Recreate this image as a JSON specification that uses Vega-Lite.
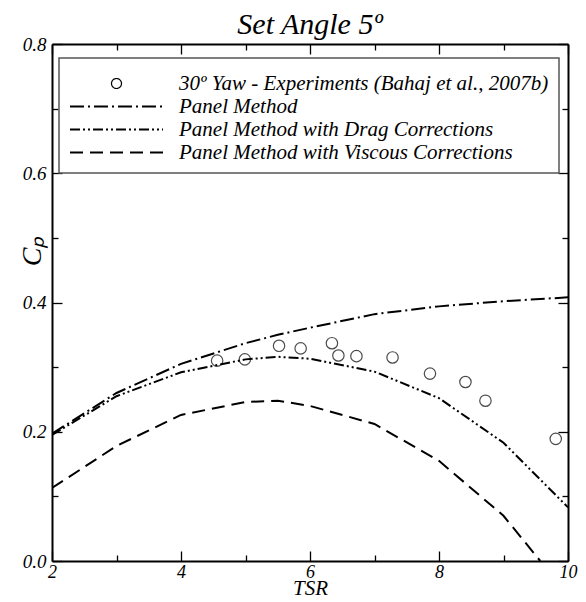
{
  "$schema": "https://vega.github.io/schema/vega-lite/v6.json",
  "width": 516,
  "height": 517,
  "autosize": {"type": "none"},
  "padding": {"left": 52, "top": 44, "right": 18, "bottom": 41},
  "background": "white",
  "config": {
    "view": {"stroke": null},
    "font": "Liberation Serif"
  },
  "title": {
    "text": "Set Angle 5º",
    "font": "Liberation Serif",
    "fontStyle": "italic",
    "fontWeight": "normal",
    "fontSize": 30,
    "color": "black",
    "offset": -5,
    "anchor": "middle"
  },
  "datasets": {
    "curves": [
      {"series": "Panel Method", "tsr": 2, "cp": 0.197},
      {"series": "Panel Method", "tsr": 3, "cp": 0.260},
      {"series": "Panel Method", "tsr": 4, "cp": 0.305},
      {"series": "Panel Method", "tsr": 5, "cp": 0.337},
      {"series": "Panel Method", "tsr": 5.5, "cp": 0.350},
      {"series": "Panel Method", "tsr": 6, "cp": 0.361},
      {"series": "Panel Method", "tsr": 7, "cp": 0.382},
      {"series": "Panel Method", "tsr": 8, "cp": 0.394},
      {"series": "Panel Method", "tsr": 9, "cp": 0.402},
      {"series": "Panel Method", "tsr": 10, "cp": 0.408},
      {"series": "Panel Method with Drag Corrections", "tsr": 2, "cp": 0.195},
      {"series": "Panel Method with Drag Corrections", "tsr": 3, "cp": 0.255},
      {"series": "Panel Method with Drag Corrections", "tsr": 4, "cp": 0.292},
      {"series": "Panel Method with Drag Corrections", "tsr": 5, "cp": 0.312},
      {"series": "Panel Method with Drag Corrections", "tsr": 5.5, "cp": 0.316},
      {"series": "Panel Method with Drag Corrections", "tsr": 6, "cp": 0.313},
      {"series": "Panel Method with Drag Corrections", "tsr": 7, "cp": 0.293},
      {"series": "Panel Method with Drag Corrections", "tsr": 8, "cp": 0.252},
      {"series": "Panel Method with Drag Corrections", "tsr": 9, "cp": 0.183},
      {"series": "Panel Method with Drag Corrections", "tsr": 10, "cp": 0.083},
      {"series": "Panel Method with Viscous Corrections", "tsr": 2, "cp": 0.113},
      {"series": "Panel Method with Viscous Corrections", "tsr": 3, "cp": 0.178},
      {"series": "Panel Method with Viscous Corrections", "tsr": 4, "cp": 0.226},
      {"series": "Panel Method with Viscous Corrections", "tsr": 5, "cp": 0.246},
      {"series": "Panel Method with Viscous Corrections", "tsr": 5.5, "cp": 0.248},
      {"series": "Panel Method with Viscous Corrections", "tsr": 6, "cp": 0.240},
      {"series": "Panel Method with Viscous Corrections", "tsr": 7, "cp": 0.212},
      {"series": "Panel Method with Viscous Corrections", "tsr": 8, "cp": 0.155},
      {"series": "Panel Method with Viscous Corrections", "tsr": 9, "cp": 0.070},
      {"series": "Panel Method with Viscous Corrections", "tsr": 9.57, "cp": 0.0}
    ],
    "experiments": [
      {"series": "30º Yaw - Experiments (Bahaj et al., 2007b)", "tsr": 4.56, "cp": 0.310},
      {"series": "30º Yaw - Experiments (Bahaj et al., 2007b)", "tsr": 4.99, "cp": 0.312},
      {"series": "30º Yaw - Experiments (Bahaj et al., 2007b)", "tsr": 5.52, "cp": 0.333},
      {"series": "30º Yaw - Experiments (Bahaj et al., 2007b)", "tsr": 5.855, "cp": 0.329},
      {"series": "30º Yaw - Experiments (Bahaj et al., 2007b)", "tsr": 6.34, "cp": 0.337},
      {"series": "30º Yaw - Experiments (Bahaj et al., 2007b)", "tsr": 6.44, "cp": 0.318},
      {"series": "30º Yaw - Experiments (Bahaj et al., 2007b)", "tsr": 6.72, "cp": 0.317},
      {"series": "30º Yaw - Experiments (Bahaj et al., 2007b)", "tsr": 7.28, "cp": 0.315},
      {"series": "30º Yaw - Experiments (Bahaj et al., 2007b)", "tsr": 7.86, "cp": 0.290},
      {"series": "30º Yaw - Experiments (Bahaj et al., 2007b)", "tsr": 8.41, "cp": 0.277},
      {"series": "30º Yaw - Experiments (Bahaj et al., 2007b)", "tsr": 8.72, "cp": 0.248},
      {"series": "30º Yaw - Experiments (Bahaj et al., 2007b)", "tsr": 9.81, "cp": 0.189}
    ]
  },
  "resolve": {"axis": {"x": "independent", "y": "independent"}},
  "layer": [
    {
      "data": {"name": "curves"},
      "mark": {"type": "line", "color": "black", "strokeWidth": 2, "clip": true},
      "encoding": {
        "x": {
          "field": "tsr", "type": "quantitative",
          "scale": {"domain": [2, 10], "nice": false, "zero": false},
          "axis": {
            "orient": "bottom",
            "title": "TSR",
            "titleFont": "Liberation Serif", "titleFontStyle": "italic", "titleFontWeight": "normal",
            "titleFontSize": 21, "titleColor": "black", "titlePadding": -8,
            "values": [2, 3, 4, 5, 6, 7, 8, 9, 10],
            "labelExpr": "datum.value % 2 == 0 ? datum.label : ''",
            "labelFont": "Liberation Serif", "labelFontStyle": "italic", "labelFontSize": 18, "labelColor": "black",
            "labelPadding": 12, "labelFlush": false, "labelOverlap": false,
            "grid": false,
            "domainColor": "black", "domainWidth": 2,
            "tickColor": "black", "tickWidth": 1.3,
            "tickSize": {"condition": {"test": "datum.value % 2 == 0", "value": -10}, "value": -6}
          }
        },
        "y": {
          "field": "cp", "type": "quantitative",
          "scale": {"domain": [0, 0.8], "nice": false, "zero": false},
          "axis": {
            "orient": "left",
            "title": "Cₚ",
            "titleFont": "Liberation Serif", "titleFontStyle": "italic", "titleFontWeight": "normal",
            "titleFontSize": 28, "titleColor": "black",
            "titleAngle": -90, "titleX": -20, "titleY": 207, "titleAlign": "center", "titleBaseline": "middle",
            "values": [0, 0.1, 0.2, 0.3, 0.4, 0.5, 0.6, 0.7, 0.8],
            "labelExpr": "round(datum.value * 10) % 2 == 0 ? format(datum.value, '.1f') : ''",
            "labelFont": "Liberation Serif", "labelFontStyle": "italic", "labelFontSize": 19, "labelColor": "black",
            "labelPadding": 16, "labelFlush": false, "labelOverlap": false,
            "grid": false,
            "domainColor": "black", "domainWidth": 2,
            "tickColor": "black", "tickWidth": 1.3,
            "tickSize": {"condition": {"test": "round(datum.value * 10) % 2 == 0", "value": -10}, "value": -6}
          }
        },
        "strokeDash": {
          "field": "series", "type": "nominal",
          "scale": {
            "domain": ["30º Yaw - Experiments (Bahaj et al., 2007b)", "Panel Method", "Panel Method with Drag Corrections", "Panel Method with Viscous Corrections"],
            "range": [[1, 0], [14, 4, 2, 4], [10, 3, 2, 3, 2, 3], [13, 7]]
          },
          "legend": {
            "title": " ",
            "titleFontSize": 5,
            "titlePadding": 0,
            "orient": "none",
            "legendX": 7,
            "legendY": 14,
            "fillColor": "white",
            "strokeColor": "#555555",
            "padding": 10,
            "symbolType": "stroke",
            "symbolSize": 8650,
            "symbolOffset": 37,
            "symbolStrokeWidth": 2,
            "symbolStrokeColor": "black",
            "labelFont": "Liberation Serif",
            "labelFontStyle": "italic",
            "labelFontSize": 21,
            "labelColor": "black",
            "labelOffset": 52,
            "labelLimit": 600,
            "rowPadding": 1,
            "encode": {
              "legend": {
                "update": {"strokeWidth": {"value": 1.5}}
              },
              "symbols": {
                "update": {
                  "shape": {"signal": "datum.index == 0 ? 'circle' : 'stroke'"},
                  "size": {"signal": "datum.index == 0 ? 100 : 8650"},
                  "strokeWidth": {"signal": "datum.index == 0 ? 1.2 : 2"}
                }
              }
            }
          }
        }
      }
    },
    {
      "data": {"name": "experiments"},
      "mark": {"type": "point", "shape": "circle", "filled": false, "color": "black", "size": 130, "strokeWidth": 1.2},
      "encoding": {
        "x": {
          "field": "tsr", "type": "quantitative",
          "axis": {
            "orient": "top", "title": null, "labels": false,
            "values": [2, 3, 4, 5, 6, 7, 8, 9, 10],
            "grid": false,
            "domainColor": "black", "domainWidth": 2,
            "tickColor": "black", "tickWidth": 1.3,
            "tickSize": {"condition": {"test": "datum.value % 2 == 0", "value": -10}, "value": -6}
          }
        },
        "y": {
          "field": "cp", "type": "quantitative",
          "axis": {
            "orient": "right", "title": null, "labels": false,
            "values": [0, 0.1, 0.2, 0.3, 0.4, 0.5, 0.6, 0.7, 0.8],
            "grid": false,
            "domainColor": "black", "domainWidth": 2,
            "tickColor": "black", "tickWidth": 1.3,
            "tickSize": {"condition": {"test": "round(datum.value * 10) % 2 == 0", "value": -10}, "value": -6}
          }
        }
      }
    }
  ]
}
